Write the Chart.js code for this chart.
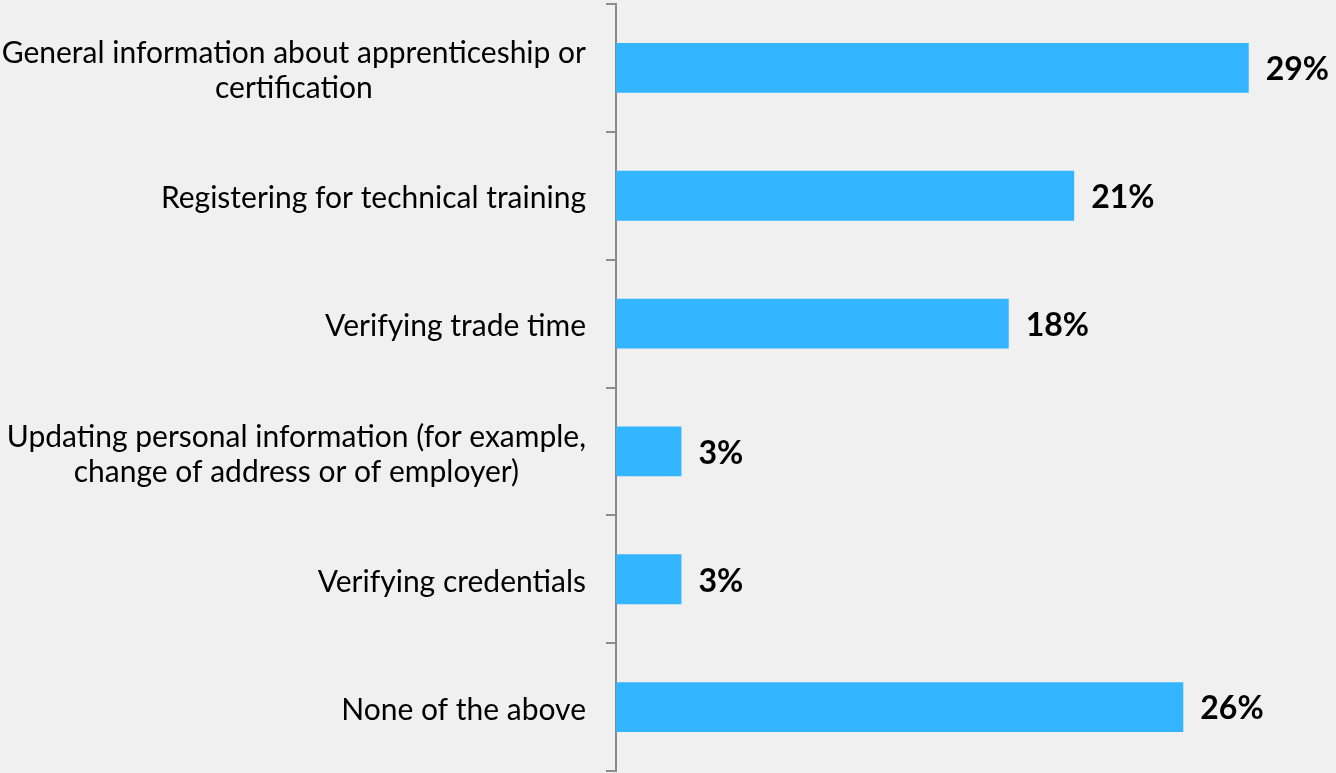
<!DOCTYPE html>
<html>
<head>
<meta charset="utf-8">
<title>Online services used</title>
<script src="https://cdn.jsdelivr.net/npm/chart.js@4/dist/chart.umd.min.js"></script>
<style>
  html, body { margin: 0; padding: 0; background: #f0f0f0; }
  #wrap { width: 1336px; height: 773px; }
</style>
</head>
<body>
<div id="wrap"><canvas id="barChart" width="1336" height="773"></canvas></div>
<script>
// Each category is a list of lines (two-line labels are wrapped by hand)
const categories = [
  ['General information about apprenticeship or', 'certification'],
  ['Registering for technical training'],
  ['Verifying trade time'],
  ['Updating personal information (for example,', 'change of address or of employer)'],
  ['Verifying credentials'],
  ['None of the above'],
]
const percents = [29, 21, 18, 3, 3, 26]

const labelFont = '30px Lato'
const valueFont = 'bold 32px Lato'

// Category labels: block right-aligned, each line centred inside its block
const categoryLabels = {
  id: 'categoryLabels',
  afterDraw(chart) {
    const { ctx } = chart
    const y = chart.scales.y
    const right = y.right - 30
    const lineHeight = 35
    ctx.save()
    ctx.font = labelFont
    ctx.fillStyle = '#000'
    ctx.textAlign = 'center'
    ctx.textBaseline = 'middle'
    categories.forEach((lines, i) => {
      const widest = Math.max(...lines.map((l) => ctx.measureText(l).width))
      const cx = right - widest / 2
      const cy = y.getPixelForTick(i) + 3
      const top = cy - ((lines.length - 1) * lineHeight) / 2
      lines.forEach((l, j) => ctx.fillText(l, cx, top + j * lineHeight))
    })
    ctx.restore()
  },
}

// Bold percentage next to the end of each bar
const valueLabels = {
  id: 'valueLabels',
  afterDatasetsDraw(chart) {
    const { ctx } = chart
    const meta = chart.getDatasetMeta(0)
    ctx.save()
    ctx.font = valueFont
    ctx.fillStyle = '#000'
    ctx.textAlign = 'left'
    ctx.textBaseline = 'middle'
    meta.data.forEach((bar, i) => {
      ctx.fillText(percents[i] + '%', bar.x + 17, bar.y + 2)
    })
    ctx.restore()
  },
}

const canvas = document.getElementById('barChart')
const myChart = new Chart(canvas, {
  type: 'bar',
  data: {
    labels: categories,
    datasets: [
      {
        data: percents,
        backgroundColor: '#33b5ff',
        categoryPercentage: 1,
        barPercentage: 0.39,
      },
    ],
  },
  options: {
    indexAxis: 'y',
    responsive: false,
    animation: false,
    layout: { padding: { top: 4, bottom: 2, left: 0, right: 0 } },
    scales: {
      x: {
        display: false,
        min: 0,
        max: 33,
      },
      y: {
        // fixed label column, no extra room above/below for the labels
        afterFit: (scale) => {
          scale.width = 616
          scale.paddingTop = 0
          scale.paddingBottom = 0
        },
        border: { display: true, color: '#8c8c8c', width: 2 },
        grid: {
          offset: true,
          drawOnChartArea: false,
          drawTicks: true,
          tickLength: 10,
          color: '#8c8c8c',
          lineWidth: 2,
        },
        ticks: {
          color: 'rgba(0,0,0,0)',
          font: { family: 'Lato', size: 2 },
        },
      },
    },
    plugins: {
      legend: { display: false },
      tooltip: { enabled: false },
    },
  },
  plugins: [categoryLabels, valueLabels],
})
</script>
</body>
</html>
